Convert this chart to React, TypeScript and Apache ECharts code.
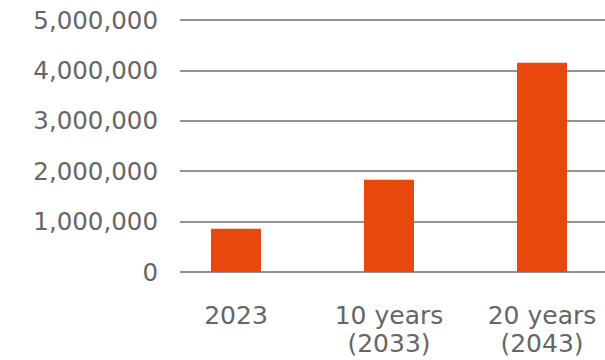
import React, { useEffect, useRef } from "react";
import * as echarts from "echarts";

const categories = ["2023", "10 years\n(2033)", "20 years\n(2043)"];
const values = [860000, 1830000, 4150000];
const yTicks = { min: 0, max: 5000000, interval: 1000000 };

export default function App() {
  const ref = useRef<HTMLDivElement>(null);
  useEffect(() => {
    document.body.style.margin = "0";
    const chart = echarts.init(ref.current!, null, { renderer: "svg" });
    const font = "DejaVu Sans";
    chart.setOption({
      animation: false,
      backgroundColor: "#ffffff",
      grid: [
        { left: 159.5, width: 459, top: 20, bottom: 88 },
        { left: 180, right: 35, top: 20, bottom: 88 },
      ],
      xAxis: [
        {
          type: "category",
          gridIndex: 0,
          data: categories,
          axisLine: { show: false },
          axisTick: { show: false },
          axisLabel: {
            color: "#666666",
            fontFamily: font,
            fontSize: 25,
            lineHeight: 28,
            margin: 29,
            interval: 0,
          },
        },
        { type: "value", gridIndex: 1, show: false, min: 0, max: 1 },
      ],
      yAxis: [
        {
          type: "value",
          gridIndex: 0,
          min: yTicks.min,
          max: yTicks.max,
          interval: yTicks.interval,
          show: false,
          splitLine: { show: false },
        },
        {
          type: "value",
          gridIndex: 1,
          min: yTicks.min,
          max: yTicks.max,
          interval: yTicks.interval,
          axisLine: { show: false },
          axisTick: { show: false },
          splitLine: { show: true, lineStyle: { color: "#6e6e6e", width: 1.6 } },
          axisLabel: {
            color: "#666666",
            fontFamily: font,
            fontSize: 24.5,
            margin: 22,
            formatter: (v: number) => v.toLocaleString("en-US"),
          },
        },
      ],
      series: [
        {
          type: "bar",
          xAxisIndex: 0,
          yAxisIndex: 0,
          data: values,
          barWidth: 50,
          itemStyle: { color: "#E8480C" },
        },
      ],
    });
    return () => chart.dispose();
  }, []);
  return (
    <div style={{ width: 605, height: 360, overflow: "hidden", position: "relative" }}>
      <div ref={ref} style={{ width: 640, height: 360 }} />
    </div>
  );
}
